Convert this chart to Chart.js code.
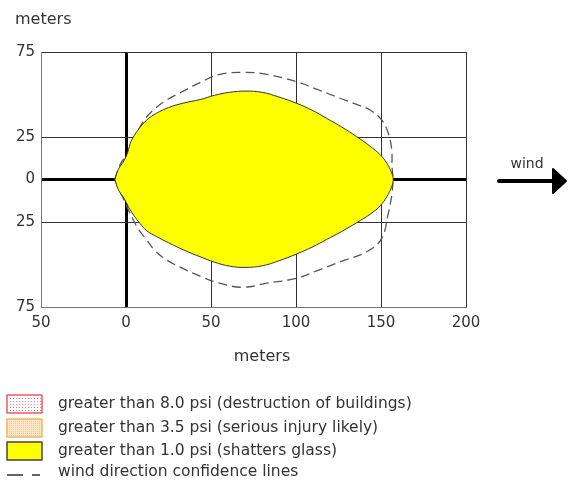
<!DOCTYPE html>
<html>
<head>
<meta charset="utf-8">
<script src="https://cdn.jsdelivr.net/npm/chart.js@4/dist/chart.umd.min.js"></script>
<style>
  body { margin: 0; background: #fff; }
  #wrap { position: relative; width: 569px; height: 482px; }
</style>
</head>
<body>
<div id="wrap"><canvas id="zone"></canvas></div>
<script>
// threat zone outline (meters downwind / crosswind)
const zoneX = [-6.5, -4.5, -1.2, 1, 3, 7, 12.2, 18, 25, 34, 43.5, 52, 61, 70, 80, 90, 100.4, 110, 118, 127, 135.7, 143.5, 149.5, 153.5, 156, 157.2,
               156, 153.5, 149.5, 143.5, 135.7, 127, 118, 110, 100.4, 90, 80, 70, 61, 52, 43.5, 34, 25, 18, 12, 8.2, 4.5, 1.4, -1.2, -4.5, -6.5];
const zoneY = [0, 6, 11, 16, 22.5, 29, 35, 39, 42.3, 45, 47, 49.5, 51.3, 52, 51.3, 48.5, 44.8, 40.5, 36, 30.8, 25.2, 19.6, 14.6, 9.5, 4.5, 0,
               -5, -10, -15.5, -20.5, -25.4, -30.5, -35.3, -39.5, -43.8, -47.8, -50.8, -51.7, -51, -48.6, -45.4, -41.5, -37.2, -33.6, -30, -25.8, -21, -16, -11, -6, 0];

// wind direction confidence lines
const confX = [-6.5, -5.5, -2.5, 0.5, 4.3, 8, 12.2, 18, 24, 35.7, 43.5, 55.3, 69, 82.8, 100.4, 113, 125.9, 136, 143.5, 150.4, 154.3, 156.3, 156.5, 157,
               156.5, 155.5, 154.3, 150.4, 141.6, 125.9, 113, 100.4, 82.8, 69, 55, 44, 34, 24, 17, 12.2, 7.5, 4.3, 1, -1.6, -4.5, -6.5];
const confY = [0, 3.6, 10.5, 14, 23.2, 30.5, 36.9, 42.5, 46.8, 53, 57, 61.9, 63, 61.9, 57.5, 52.8, 47.8, 44, 40.9, 35, 27.2, 17.4, 7.5, 0,
               -8.1, -14, -19.9, -34.6, -42.5, -48.4, -53.4, -58.1, -61, -63.4, -61, -57, -52.6, -47.4, -41.8, -35.6, -29.5, -23.8, -17, -11, -5.2, 0];

const xTicks = [-50, 0, 50, 100, 150, 200];
const yTicks = [-75, -25, 0, 25, 75];

const legendLabels = [
  'greater than 8.0 psi (destruction of buildings)',
  'greater than 3.5 psi (serious injury likely)',
  'greater than 1.0 psi (shatters glass)',
  'wind direction confidence lines'
];

const pts = (xs, ys) => xs.map((x, i) => ({ x: x, y: ys[i] }));

const extras = {
  id: 'extras',
  afterDraw(chart) {
    const ctx = chart.ctx;
    ctx.save();
    ctx.fillStyle = '#333';
    ctx.font = '16px "DejaVu Sans"';
    ctx.textBaseline = 'alphabetic';
    ctx.textAlign = 'left';
    ctx.fillText('meters', 15, 24);
    ctx.textAlign = 'center';
    ctx.fillText('meters', 262, 361);

    // wind arrow
    ctx.font = '14px "DejaVu Sans"';
    ctx.fillText('wind', 527, 168);
    ctx.strokeStyle = '#000';
    ctx.lineWidth = 4;
    ctx.lineCap = 'round';
    ctx.beginPath();
    ctx.moveTo(499, 181);
    ctx.lineTo(555, 181);
    ctx.stroke();
    ctx.fillStyle = '#000';
    ctx.lineJoin = 'round';
    ctx.lineWidth = 2;
    ctx.beginPath();
    ctx.moveTo(553, 169);
    ctx.lineTo(566, 181);
    ctx.lineTo(553, 193);
    ctx.closePath();
    ctx.fill();
    ctx.stroke();

    // legend
    const rowY = [404, 428, 451];
    // 8.0 psi box
    ctx.fillStyle = '#fff';
    ctx.fillRect(7, 395, 35, 18);
    ctx.fillStyle = '#f07a8a';
    for (let x = 10; x < 41; x += 3) {
      for (let y = 398; y < 412; y += 3) ctx.fillRect(x, y, 1, 1);
    }
    ctx.strokeStyle = '#ee5a64';
    ctx.lineWidth = 1.5;
    ctx.strokeRect(7, 395, 35, 18);
    // 3.5 psi box
    ctx.fillStyle = '#fde6c6';
    ctx.fillRect(7, 419, 35, 18);
    ctx.fillStyle = '#f5c98a';
    for (let x = 9; x < 41; x += 2) {
      for (let y = 421; y < 436; y += 2) ctx.fillRect(x, y, 1, 1);
    }
    ctx.strokeStyle = '#f2b25a';
    ctx.strokeRect(7, 419, 35, 18);
    // 1.0 psi box
    ctx.fillStyle = '#ffff00';
    ctx.fillRect(7, 442, 35, 18);
    ctx.strokeStyle = '#444';
    ctx.strokeRect(7, 442, 35, 18);
    // dashed sample
    ctx.strokeStyle = '#333';
    ctx.lineCap = 'butt';
    ctx.lineWidth = 1.5;
    ctx.beginPath();
    ctx.moveTo(7, 475); ctx.lineTo(23, 475);
    ctx.moveTo(32, 475); ctx.lineTo(40, 475);
    ctx.stroke();

    ctx.fillStyle = '#333';
    ctx.font = '15.5px "DejaVu Sans"';
    ctx.textAlign = 'left';
    ctx.textBaseline = 'middle';
    legendLabels.forEach((t, i) => {
      const y = i < 3 ? rowY[i] : 472;
      ctx.fillText(t, 58, y);
    });
    ctx.restore();
  }
};

const lineColor = c => (c.tick && c.tick.value === 0 ? '#000' : '#333');
const lineWidth = c => (c.tick && c.tick.value === 0 ? 3 : 1);

new Chart(document.getElementById('zone'), {
  type: 'line',
  data: {
    datasets: [
      {
        label: legendLabels[2],
        data: pts(zoneX, zoneY),
        borderColor: '#333',
        borderWidth: 1,
        backgroundColor: '#ffff00',
        fill: 'shape',
        tension: 0.4,
        pointRadius: 0
      },
      {
        label: legendLabels[3],
        data: pts(confX, confY),
        borderColor: '#555',
        borderWidth: 1.3,
        borderDash: [9, 5],
        fill: false,
        tension: 0.4,
        pointRadius: 0
      }
    ]
  },
  options: {
    responsive: true,
    maintainAspectRatio: false,
    animation: false,
    layout: { padding: { left: 0, top: 52, right: 103, bottom: 145 } },
    plugins: { legend: { display: false }, tooltip: { enabled: false } },
    scales: {
      x: {
        type: 'linear',
        min: -50,
        max: 200,
        z: 1,
        afterBuildTicks: s => { s.ticks = xTicks.map(v => ({ value: v })); },
        afterFit: s => { s.height = 30; },
        grid: { color: lineColor, lineWidth: lineWidth, drawTicks: false },
        border: { color: '#777', width: 1 },
        ticks: {
          padding: 7,
          color: '#333',
          font: { family: 'DejaVu Sans', size: 15 },
          callback: v => Math.abs(v)
        }
      },
      y: {
        type: 'linear',
        min: -75,
        max: 75,
        z: 1,
        afterBuildTicks: s => { s.ticks = yTicks.map(v => ({ value: v })); },
        afterFit: s => { s.width = 41; },
        grid: { color: lineColor, lineWidth: lineWidth, drawTicks: false },
        border: { color: '#777', width: 1 },
        ticks: {
          padding: 6,
          color: '#333',
          font: { family: 'DejaVu Sans', size: 15 },
          callback: v => Math.abs(v)
        }
      }
    }
  },
  plugins: [extras]
});
</script>
</body>
</html>
